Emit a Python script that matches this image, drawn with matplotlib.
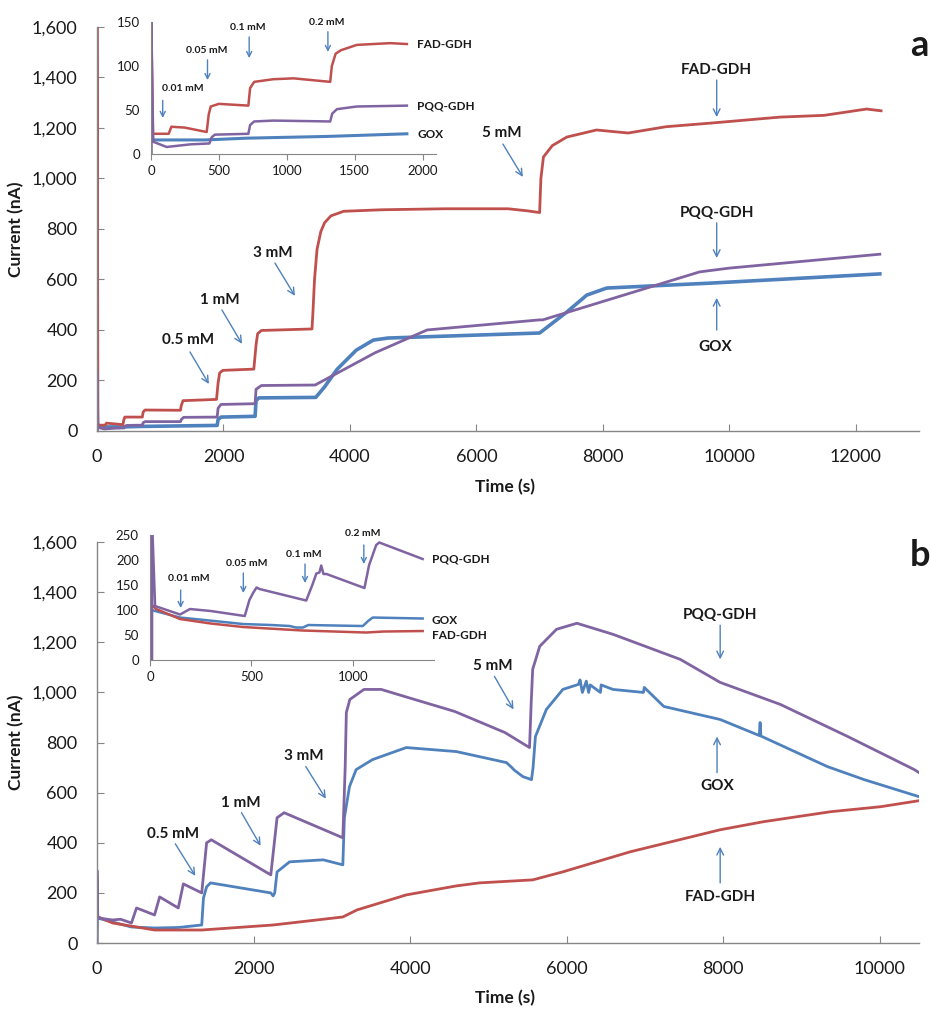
import matplotlib
matplotlib.use('Agg')
import matplotlib.pyplot as plt
from matplotlib.ticker import FuncFormatter, MultipleLocator

plt.rcParams['font.family'] = ['Lato', 'DejaVu Sans']

RED = '#C0504D'
PURPLE = '#8064A2'
BLUE = '#4F81BD'
GREY = '#868686'
TXT = '#1a1a1a'

# ---- panel a, main plot (time s, current nA)
a_fad_t = [0, 0, 15, 130, 150, 410, 425, 440, 717, 730, 760, 1320, 1332, 1360, 1890, 1915, 1940, 1990, 2480, 2515, 2540,
           2600, 3400, 3415, 3440, 3480, 3540, 3600, 3700, 3900, 4500, 5500, 6500, 6800, 7000, 7020, 7060, 7200, 7430,
           7900, 8400, 9000, 9740, 10800, 11500, 12170, 12400]
a_fad_v = [0, 1700, 23, 23, 31, 25, 45, 55, 55, 75, 83, 82, 100, 120, 125, 190, 230, 240, 245, 340, 385,
           398, 404, 470, 600, 720, 790, 825, 852, 870, 876, 880, 880, 872, 865, 1000, 1085, 1130, 1164,
           1192, 1180, 1205, 1220, 1243, 1250, 1275, 1268]
a_pqq_t = [0, 0, 15, 115, 290, 430, 447, 470, 717, 730, 760, 1320, 1335, 1370, 1900, 1915, 1960, 2500, 2515, 2600,
           3450, 4400, 5220, 7000, 7050, 9530, 10000, 12380]
a_pqq_v = [0, 240, 14, 8, 11, 12, 19, 22, 23, 33, 37, 37, 46, 54, 55, 90, 105, 108, 165, 180,
           182, 310, 400, 440, 440, 630, 645, 700]
a_gox_t = [0, 0, 15, 400, 700, 1300, 1900, 1915, 1960, 2500, 2515, 2560, 3460, 3600, 3800, 4100, 4370, 4600,
           7000, 7430, 7745, 8060, 9740, 12380]
a_gox_v = [0, 40, 16, 16, 18, 20, 22, 45, 55, 58, 120, 131, 133, 175, 245, 320, 360, 368,
           388, 471, 538, 566, 586, 622]

# ---- panel a, inset (first 2000 s)
ai_fad_t = [0, 0, 15, 130, 150, 250, 410, 425, 440, 500, 717, 730, 760, 900, 1050, 1320, 1332, 1360, 1400, 1516,
            1762, 1885]
ai_fad_v = [0, 170, 23, 23, 31, 30, 25, 45, 54, 57, 55, 75, 82, 85, 86, 82, 100, 114, 118, 124, 126, 125]
ai_pqq_t = [0, 0, 15, 115, 290, 430, 447, 470, 717, 730, 760, 900, 1320, 1335, 1370, 1516, 1885]
ai_pqq_v = [0, 170, 14, 8, 11, 12, 19, 22, 23, 33, 37, 38, 37, 46, 51, 54, 55]
ai_gox_t = [0, 0, 15, 400, 700, 1300, 1885]
ai_gox_v = [0, 40, 16, 16, 18, 20, 23]

# ---- panel b, main plot
b_fad_t = [10, 200, 735, 1338, 2250, 3140, 3320, 3950, 4590, 4885, 5565, 5950, 6810, 7960, 8510, 9370, 10010, 10500]
b_fad_v = [105, 80, 52, 52, 72, 104, 132, 192, 228, 240, 252, 284, 364, 452, 484, 524, 544, 568]
b_pqq_t = [0, 0, 10, 200, 300, 440, 505, 735, 800, 1038, 1103, 1338, 1400, 1460, 2220, 2300, 2390, 3140, 3170,
           3185, 3230, 3410, 3630, 3970, 4570, 5210, 5525, 5545, 5565, 5655, 5870, 6130, 6590, 7450, 7960, 8730,
           9590, 10440, 10500]
b_pqq_v = [0, 290, 100, 92, 95, 80, 140, 112, 184, 140, 236, 200, 400, 412, 272, 500, 520, 420, 700,
           920, 972, 1012, 1012, 980, 924, 840, 780, 950, 1092, 1184, 1252, 1276, 1232, 1132, 1040, 952,
           824, 692, 680]
b_gox_t = [0, 5, 440, 735, 1038, 1338, 1360, 1400, 1450, 2220, 2250, 2270, 2300, 2460, 2890, 3140, 3160, 3225,
           3310, 3520, 3950, 4590, 5230, 5300, 5330, 5440, 5550, 5570, 5600, 5740, 5950, 6150, 6170, 6200, 6250,
           6280, 6300, 6430, 6440, 6590, 6980, 6990, 7240, 7960, 8460, 8470, 8480, 9330, 9800, 10500]
b_gox_v = [0, 100, 64, 60, 62, 72, 180, 224, 240, 200, 188, 200, 284, 324, 332, 312, 500, 624,
           692, 732, 780, 764, 720, 700, 690, 664, 652, 700, 824, 932, 1012, 1032, 1050, 1000, 1045,
           1000, 1030, 1000, 1030, 1012, 1000, 1020, 944, 892, 828, 880, 826, 704, 652, 584]

# ---- panel b, inset
bi_fad_t = [15, 30, 148, 300, 459, 754, 1066, 1150, 1344]
bi_fad_v = [108, 102, 82, 73, 66, 59, 55, 57, 58]
bi_pqq_t = [0, 10, 10, 25, 148, 197, 300, 467, 490, 508, 525, 540, 770, 800, 820, 835, 844, 855, 870, 1057,
            1080, 1115, 1130, 1344]
bi_pqq_v = [0, 0, 280, 108, 91, 102, 98, 88, 120, 134, 145, 142, 119, 150, 173, 175, 189, 172, 172, 144,
            190, 230, 235, 202]
bi_gox_t = [0, 0, 10, 25, 148, 270, 459, 600, 689, 720, 754, 780, 1049, 1075, 1098, 1344]
bi_gox_v = [0, 55, 100, 98, 85, 80, 72, 70, 68, 65, 65, 70, 68, 78, 85, 83]

comma = FuncFormatter(lambda v, p: '{:,.0f}'.format(v))


def style_main(ax, xmax, xticks):
    for s in ['top', 'right']:
        ax.spines[s].set_visible(False)
    for s in ['left', 'bottom']:
        ax.spines[s].set_color(GREY)
        ax.spines[s].set_linewidth(1.0)
    ax.set_xlim(0, xmax)
    ax.set_ylim(0, 1600)
    ax.set_xticks(xticks)
    ax.yaxis.set_major_locator(MultipleLocator(200))
    ax.yaxis.set_major_formatter(comma)
    ax.tick_params(axis='both', direction='in', length=5, color=GREY, labelsize=13, labelcolor=TXT)
    ax.tick_params(axis='x', pad=13)
    ax.tick_params(axis='y', pad=14)
    ax.set_ylabel('Current (nA)', fontsize=12.5, fontweight='bold', color=TXT)
    ax.set_xlabel('Time (s)', fontsize=12.5, fontweight='bold', color=TXT)
    ax.yaxis.set_label_coords(-0.088, 0.5)
    ax.xaxis.set_label_coords(0.496, -0.118)


def style_inset(ax, xmax, ymax, xstep):
    for s in ['top', 'right']:
        ax.spines[s].set_visible(False)
    for s in ['left', 'bottom']:
        ax.spines[s].set_color(GREY)
    ax.set_xlim(0, xmax)
    ax.set_ylim(0, ymax)
    ax.xaxis.set_major_locator(MultipleLocator(xstep))
    ax.yaxis.set_major_locator(MultipleLocator(50))
    ax.tick_params(axis='x', direction='out', length=4, color=GREY, labelsize=9.5, labelcolor=TXT, pad=4)
    ax.tick_params(axis='y', length=0, labelsize=9.5, labelcolor=TXT, pad=8)
    ax.patch.set_alpha(0)


def arrow(ax, tail, tip, lw=1.0, ms=12):
    ax.annotate('', xy=tip, xytext=tail,
                arrowprops=dict(arrowstyle='->', color=BLUE, lw=lw, mutation_scale=ms,
                                shrinkA=0, shrinkB=0))


fig = plt.figure(figsize=(9.3, 10.1), dpi=100)

# ================= panel a
ax1 = fig.add_axes([0.1043, 0.5733, 0.8839, 0.400])
ax1.plot(a_gox_t, a_gox_v, color=BLUE, lw=2.6)
ax1.plot(a_fad_t, a_fad_v, color=RED, lw=2.0)
ax1.plot(a_pqq_t, a_pqq_v, color=PURPLE, lw=2.0)
style_main(ax1, 13000, range(0, 12001, 2000))

fb = dict(fontsize=11, fontweight='bold', color=TXT, ha='center', va='center')
ax1.text(1440, 360, '0.5 mM', **fb)
arrow(ax1, (1470, 313), (1770, 186))
ax1.text(1945, 519, '1 mM', **fb)
arrow(ax1, (1976, 479), (2293, 345))
ax1.text(2783, 705, '3 mM', **fb)
arrow(ax1, (2814, 665), (3130, 535))
ax1.text(6403, 1180, '5 mM', **fb)
arrow(ax1, (6420, 1136), (6735, 1006))
ax1.text(9800, 1430, 'FAD-GDH', **fb)
arrow(ax1, (9800, 1390), (9800, 1243))
ax1.text(9800, 863, 'PQQ-GDH', **fb)
arrow(ax1, (9800, 824), (9800, 685))
ax1.text(9770, 333, 'GOX', **fb)
arrow(ax1, (9800, 400), (9800, 527))

ins1 = fig.add_axes([0.1624, 0.8475, 0.3065, 0.1307])
ins1.plot(ai_gox_t, ai_gox_v, color=BLUE, lw=2.2)
ins1.plot(ai_fad_t, ai_fad_v, color=RED, lw=1.8)
ins1.plot(ai_pqq_t, ai_pqq_v, color=PURPLE, lw=1.8)
style_inset(ins1, 2100, 150, 500)

fs = dict(fontsize=7.5, fontweight='bold', color=TXT, ha='center', va='center')
ins1.text(236, 75, '0.01 mM', **fs)
arrow(ins1, (86, 61), (86, 41), ms=9)
ins1.text(413, 118, '0.05 mM', **fs)
arrow(ins1, (416, 107), (416, 84), ms=9)
ins1.text(716, 144, '0.1 mM', **fs)
arrow(ins1, (723, 133), (723, 109), ms=9)
ins1.text(1298, 150, '0.2 mM', **fs)
arrow(ins1, (1303, 139), (1303, 116), ms=9)
fl = dict(fontsize=8.5, fontweight='bold', color=TXT, ha='left', va='center', clip_on=False)
ins1.text(1960, 124, 'FAD-GDH', **fl)
ins1.text(1960, 55, 'PQQ-GDH', **fl)
ins1.text(1960, 22, 'GOX', **fl)

# ================= panel b
ax2 = fig.add_axes([0.1043, 0.0663, 0.8839, 0.397])
ax2.plot(b_gox_t, b_gox_v, color=BLUE, lw=2.0)
ax2.plot(b_fad_t, b_fad_v, color=RED, lw=2.0)
ax2.plot(b_pqq_t, b_pqq_v, color=PURPLE, lw=2.0)
style_main(ax2, 10500, range(0, 10001, 2000))

ax2.text(974, 436, '0.5 mM', **fb)
arrow(ax2, (1000, 396), (1256, 268))
ax2.text(1833, 560, '1 mM', **fb)
arrow(ax2, (1846, 520), (2090, 388))
ax2.text(2641, 748, '3 mM', **fb)
arrow(ax2, (2667, 704), (2923, 576))
ax2.text(5051, 1104, '5 mM', **fb)
arrow(ax2, (5077, 1064), (5320, 932))
ax2.text(7960, 1308, 'PQQ-GDH', **fb)
arrow(ax2, (7960, 1268), (7960, 1132))
ax2.text(7920, 628, 'GOX', **fb)
arrow(ax2, (7920, 680), (7920, 824))
ax2.text(7960, 184, 'FAD-GDH', **fb)
arrow(ax2, (7960, 240), (7960, 384))

ins2 = fig.add_axes([0.1613, 0.3465, 0.3054, 0.1238])
ins2.plot(bi_gox_t, bi_gox_v, color=BLUE, lw=1.8)
ins2.plot(bi_fad_t, bi_fad_v, color=RED, lw=1.8)
ins2.plot(bi_pqq_t, bi_pqq_v, color=PURPLE, lw=1.8)
style_inset(ins2, 1400, 250, 500)

ins2.text(193, 163, '0.01 mM', **fs)
arrow(ins2, (151, 140), (151, 104), ms=9)
ins2.text(477, 193, '0.05 mM', **fs)
arrow(ins2, (460, 174), (460, 134), ms=9)
ins2.text(759, 212, '0.1 mM', **fs)
arrow(ins2, (764, 192), (764, 154), ms=9)
ins2.text(1050, 252, '0.2 mM', **fs)
arrow(ins2, (1054, 230), (1054, 192), ms=9)
ins2.text(1389, 202, 'PQQ-GDH', **fl)
ins2.text(1389, 80, 'GOX', **fl)
ins2.text(1389, 50, 'FAD-GDH', **fl)

fig.text(0.989, 1 - 45 / 1010, 'a', fontsize=26, fontweight='bold', ha='center', va='center', color=TXT)
fig.text(0.989, 1 - 555 / 1010, 'b', fontsize=26, fontweight='bold', ha='center', va='center', color=TXT)

fig.savefig('out.png', dpi=100)
